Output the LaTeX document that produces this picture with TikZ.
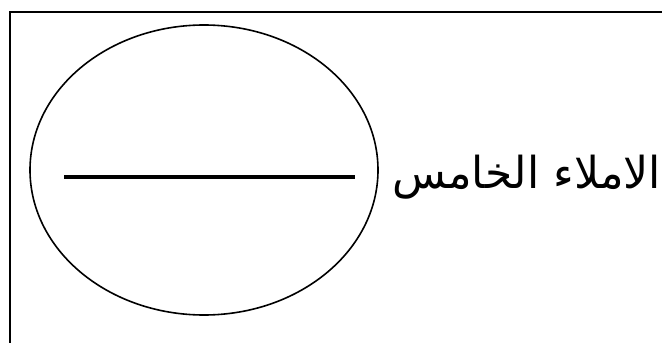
\documentclass[tikz,border=0pt]{standalone}
\usepackage{fontspec}
\newfontfamily\arabicfont[Script=Arabic]{DejaVu Sans}
\TeXXeTstate=1
\usetikzlibrary{shapes.geometric,positioning}

\begin{document}
\begin{tikzpicture}[x=1pt,y=1pt]
    \useasboundingbox (0,0) rectangle (662,-343);
    \draw[line width=2.2pt] (10,-360) -- (10,-12) -- (680,-12);
    \node[ellipse,draw,line width=1.6pt,minimum width=348pt,minimum height=290pt,inner sep=0pt] (oval) at (204,-170) {};
    \node[anchor=base west,inner sep=0pt,font=\arabicfont\fontsize{44}{50}\selectfont] (title) at (392,-188) {\beginR الاملاء الخامس\endR};

    \coordinate (blankL) at ([xshift=35pt,yshift=-7pt]oval.west);
    \coordinate (blankR) at ([xshift=-24pt,yshift=-7pt]oval.east);
    \draw[line width=4pt] (blankL) -- (blankR);
  \end{tikzpicture}
\end{document}
